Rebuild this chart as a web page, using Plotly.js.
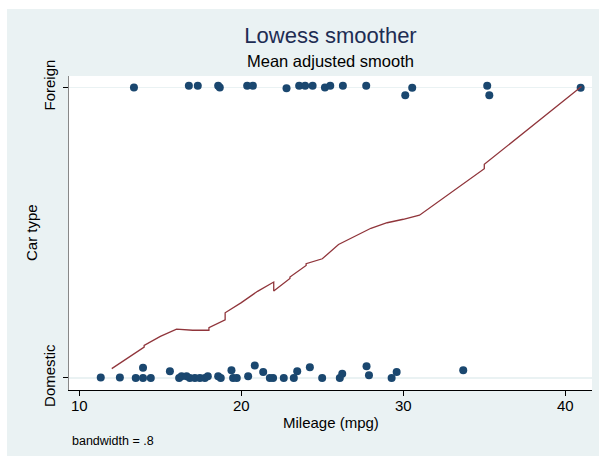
<!DOCTYPE html>
<html>
<head>
<meta charset="utf-8">
<script src="https://cdn.plot.ly/plotly-3.0.1.min.js"></script>
<style>
  html, body { margin: 0; padding: 0; background: #ffffff; }
  #chart { position: absolute; left: 7px; top: 9px; width: 592px; height: 447px; }
</style>
</head>
<body>
<div id="chart"></div>
<script>
// Jittered scatter points (mpg, foreign)
const foreignX = [13.37, 16.76, 17.31, 18.57, 18.67, 20.36, 20.71, 22.79, 23.57, 23.94, 24.40, 25.16, 25.49, 26.27, 27.71, 30.12, 30.55, 35.18, 35.31, 40.95];
const foreignY = [0.9997, 1.0055, 1.0055, 1.0055, 0.9997, 1.0055, 1.0055, 0.9966, 1.0055, 1.0055, 1.0055, 0.9997, 1.0055, 1.0055, 1.0055, 0.973, 0.9986, 1.0055, 0.973, 0.9986];

const domesticX = [11.32, 12.50, 13.48, 13.93, 13.93, 14.41, 15.59, 16.16, 16.31, 16.62, 16.82, 17.13, 17.44, 17.75, 17.93, 18.57, 18.73, 19.39, 19.49, 19.72, 20.42, 20.83, 21.35, 21.76, 21.96, 22.62, 23.24, 23.45, 24.23, 24.99, 26.08, 26.23, 27.73, 27.88, 29.28, 29.59, 33.70];
const domesticY = [0.001, 0.001, 0.000, 0.000, 0.035, 0.000, 0.023, 0.000, 0.006, 0.006, 0.000, 0.000, 0.000, 0.000, 0.006, 0.006, 0.000, 0.026, 0.000, 0.000, 0.006, 0.043, 0.020, 0.000, 0.000, 0.000, 0.000, 0.023, 0.037, 0.000, 0.000, 0.014, 0.040, 0.009, 0.000, 0.020, 0.026];

// Lowess smooth (mean adjusted), bandwidth .8
const smoothX = [12, 14, 14, 15, 16, 17, 18, 18, 19, 19, 20, 21, 22, 22, 23, 23, 24, 24, 25, 26, 28, 29, 30, 31, 35, 35, 41];
const smoothY = [0.032, 0.106, 0.112, 0.143, 0.168, 0.164, 0.164, 0.173, 0.200, 0.224, 0.259, 0.298, 0.330, 0.299, 0.342, 0.347, 0.387, 0.393, 0.410, 0.459, 0.515, 0.534, 0.546, 0.560, 0.720, 0.735, 1.003];

const xTicks = [10, 20, 30, 40];
const yTicks = [0, 1];
const yTickText = ["Domestic", "Foreign"];

const markerColor = "#1a476f";
const lineColor = "#90353b";
const font = "Liberation Sans, Arial, sans-serif";

const traces = [
  { x: domesticX, y: domesticY, type: "scatter", mode: "markers",
    marker: { color: markerColor, size: 8 }, hoverinfo: "skip" },
  { x: foreignX, y: foreignY, type: "scatter", mode: "markers",
    marker: { color: markerColor, size: 8 }, hoverinfo: "skip" },
  { x: smoothX, y: smoothY, type: "scatter", mode: "lines",
    line: { color: lineColor, width: 1.3 }, hoverinfo: "skip" }
];

const layout = {
  width: 592, height: 447,
  margin: { l: 62, r: 7, t: 67, b: 66 },
  paper_bgcolor: "#eaf2f3",
  plot_bgcolor: "#ffffff",
  showlegend: false,
  font: { family: font, color: "#000000" },
  title: { text: "Lowess smoother", x: 0.5, xref: "paper", y: 0.942, yref: "container", yanchor: "middle",
           font: { family: font, size: 22, color: "#1e2d53" } },
  xaxis: {
    range: [9.36, 41.65], tickvals: xTicks, ticks: "outside", ticklen: 5, tickcolor: "#000",
    ticklabelstandoff: -3,
    showgrid: false, zeroline: false, showline: true, linecolor: "#000", linewidth: 1,
    tickfont: { size: 15, family: font }
  },
  yaxis: {
    range: [-0.0416, 1.039], tickvals: yTicks, ticktext: yTickText, tickangle: -90,
    ticks: "outside", ticklen: 5, tickcolor: "#000", ticklabelstandoff: 2,
    showgrid: true, gridcolor: "#eaf2f3", gridwidth: 1.5, zeroline: false,
    showline: true, linecolor: "#888", linewidth: 1.5,
    tickfont: { size: 15, family: font }
  },
  annotations: [
    { text: "Mean adjusted smooth", xref: "paper", yref: "paper", x: 0.5, y: 1.0, yshift: 15.5,
      xanchor: "center", yanchor: "middle", showarrow: false, font: { size: 16.5, family: font, color: "#000" } },
    { text: "Mileage (mpg)", xref: "paper", yref: "paper", x: 0.5, y: 0, yshift: -32.5,
      xanchor: "center", yanchor: "middle", showarrow: false, font: { size: 15, family: font, color: "#000" } },
    { text: "Car type", xref: "paper", yref: "paper", x: 0, y: 0.5, xshift: -38, textangle: -90,
      xanchor: "center", yanchor: "middle", showarrow: false, font: { size: 15, family: font, color: "#000" } },
    { text: "bandwidth = .8", xref: "paper", yref: "paper", x: 0, y: 0, yshift: -50.5, xshift: 1,
      xanchor: "left", yanchor: "middle", showarrow: false, font: { size: 12.5, family: font, color: "#000" } }
  ]
};

Plotly.newPlot("chart", traces, layout, { displayModeBar: false, staticPlot: true });
</script>
</body>
</html>
